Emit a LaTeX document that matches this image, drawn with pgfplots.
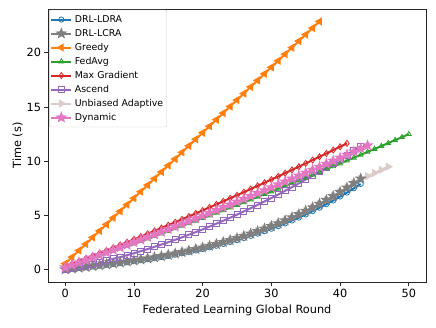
\documentclass[border=0pt]{standalone}
\usepackage{fontspec}
\setmainfont{DejaVu Sans}
\usepackage{pgfplots}
\usepackage{pgfplotstable}
\pgfplotsset{compat=1.18}
\usetikzlibrary{plotmarks}

\definecolor{tabblue}{HTML}{1F77B4}
\definecolor{tabgray}{HTML}{7F7F7F}
\definecolor{taborange}{HTML}{FF7F0E}
\definecolor{tabgreen}{HTML}{2CA02C}
\definecolor{tabred}{HTML}{D62728}
\definecolor{tabpurple}{HTML}{9467BD}
\definecolor{tabpale}{RGB}{220,204,201}
\definecolor{tabpink}{HTML}{E377C2}

% filled five-pointed star, like matplotlib's '*'
\pgfdeclareplotmark{fstar}{%
  \pgfpathmoveto{\pgfpointpolar{90}{\pgfplotmarksize}}%
  \pgfpathlineto{\pgfpointpolar{126}{0.42\pgfplotmarksize}}%
  \pgfpathlineto{\pgfpointpolar{162}{\pgfplotmarksize}}%
  \pgfpathlineto{\pgfpointpolar{198}{0.42\pgfplotmarksize}}%
  \pgfpathlineto{\pgfpointpolar{234}{\pgfplotmarksize}}%
  \pgfpathlineto{\pgfpointpolar{270}{0.42\pgfplotmarksize}}%
  \pgfpathlineto{\pgfpointpolar{306}{\pgfplotmarksize}}%
  \pgfpathlineto{\pgfpointpolar{342}{0.42\pgfplotmarksize}}%
  \pgfpathlineto{\pgfpointpolar{18}{\pgfplotmarksize}}%
  \pgfpathlineto{\pgfpointpolar{54}{0.42\pgfplotmarksize}}%
  \pgfpathclose
  \pgfusepathqfillstroke
}

\pgfplotsset{
  ser/.style={line width=2pt, mark options={solid, line width=0.8pt}},
}

% x ldra lcra greedy fedavg maxg ascend unb dyn
\pgfplotstableread{
x ldra lcra greedy fedavg maxg ascend unb dyn
0 0.00 0.02 0.55 0.20 0.30 0.00 0.02 0.20
1 0.07 0.09 1.15 0.42 0.54 0.12 0.09 0.43
2 0.14 0.17 1.76 0.63 0.78 0.25 0.17 0.65
3 0.21 0.24 2.36 0.85 1.03 0.38 0.24 0.88
4 0.29 0.33 2.97 1.07 1.27 0.52 0.33 1.11
5 0.36 0.40 3.57 1.29 1.52 0.67 0.40 1.34
6 0.44 0.49 4.17 1.51 1.77 0.82 0.49 1.58
7 0.51 0.56 4.78 1.74 2.02 0.99 0.56 1.81
8 0.60 0.66 5.38 1.96 2.28 1.15 0.66 2.04
9 0.68 0.74 5.99 2.19 2.53 1.33 0.74 2.28
10 0.77 0.84 6.59 2.41 2.79 1.51 0.84 2.52
11 0.86 0.93 7.19 2.64 3.05 1.70 0.93 2.76
12 0.95 1.03 7.80 2.87 3.31 1.90 1.03 3.00
13 1.05 1.13 8.40 3.10 3.57 2.10 1.13 3.24
14 1.15 1.24 9.01 3.33 3.84 2.31 1.24 3.49
15 1.26 1.36 9.61 3.56 4.10 2.53 1.36 3.73
16 1.38 1.48 10.21 3.80 4.37 2.75 1.48 3.98
17 1.50 1.61 10.82 4.03 4.64 2.98 1.61 4.23
18 1.63 1.75 11.42 4.27 4.91 3.22 1.75 4.48
19 1.76 1.89 12.03 4.51 5.18 3.46 1.89 4.73
20 1.90 2.03 12.63 4.75 5.46 3.71 2.03 4.98
21 2.05 2.19 13.23 4.99 5.74 3.97 2.19 5.23
22 2.20 2.35 13.84 5.23 6.02 4.24 2.35 5.49
23 2.37 2.53 14.44 5.47 6.30 4.51 2.53 5.75
24 2.54 2.71 15.05 5.72 6.58 4.79 2.71 6.00
25 2.72 2.90 15.65 5.96 6.86 5.07 2.90 6.26
26 2.91 3.10 16.25 6.21 7.15 5.37 3.10 6.52
27 3.11 3.32 16.86 6.46 7.44 5.67 3.32 6.79
28 3.32 3.54 17.46 6.71 7.73 5.97 3.54 7.05
29 3.54 3.77 18.07 6.96 8.02 6.29 3.77 7.31
30 3.77 4.02 18.67 7.21 8.31 6.61 4.02 7.58
31 4.01 4.27 19.27 7.46 8.60 6.93 4.27 7.85
32 4.26 4.54 19.88 7.71 8.90 7.27 4.54 8.12
33 4.53 4.82 20.48 7.97 9.20 7.61 4.82 8.39
34 4.80 5.11 21.09 8.23 9.50 7.96 5.11 8.66
35 5.09 5.42 21.69 8.48 9.80 8.31 5.42 8.93
36 5.39 5.73 22.29 8.74 10.11 8.67 5.73 9.21
37 5.71 6.07 22.90 9.00 10.41 9.04 6.07 9.48
38 6.04 6.42 nan 9.27 10.72 9.42 6.42 9.76
39 6.38 6.78 nan 9.53 11.03 9.80 6.78 10.04
40 6.74 7.16 nan 9.79 11.34 10.19 7.16 10.32
41 7.11 7.56 nan 10.06 11.65 10.58 7.56 10.60
42 7.50 7.97 nan 10.32 nan 10.99 7.97 10.88
43 7.90 8.39 nan 10.59 nan 11.40 8.39 11.17
44 nan nan nan 10.86 nan nan 8.62 11.46
45 nan nan nan 11.13 nan nan 8.92 nan
46 nan nan nan 11.40 nan nan 9.21 nan
47 nan nan nan 11.67 nan nan 9.50 nan
48 nan nan nan 11.95 nan nan nan nan
49 nan nan nan 12.22 nan nan nan nan
50 nan nan nan 12.50 nan nan nan nan
}\rounds

\begin{document}
\begin{tikzpicture}
\path[use as bounding box] (-48pt,-45pt) rectangle (388pt,282pt);
\begin{axis}[
  scale only axis,
  width=378pt, height=273pt,
  xmin=-2.5, xmax=52.5, ymin=-1.145, ymax=24.05,
  xtick={0,10,...,50}, ytick={0,5,...,20},
  tick align=outside, major tick length=3.5pt,
  xtick pos=bottom, ytick pos=left,
  axis line style={line width=0.8pt, black!85},
  every tick/.style={black!85, line width=0.8pt},
  /pgf/number format/assume math mode=true,
  tick label style={font=\fontsize{11.3}{13}\selectfont},
  label style={font=\fontsize{11.3}{13}\selectfont},
  xlabel={Federated Learning Global Round},
  ylabel={Time (s)},
  ylabel style={yshift=-3pt},
  unbounded coords=discard,
  legend image code/.code={\draw[mark repeat=2,mark phase=2] plot coordinates {(0pt,0pt) (10pt,0pt) (20pt,0pt)};},
  legend cell align=left,
  legend style={at={(0.003,0.997)}, anchor=north west, draw=black!20, fill=white,
    rounded corners=2pt, font=\fontsize{9.4}{11}\selectfont,
    inner xsep=1pt, inner ysep=2.5pt,
    nodes={inner sep=2.5pt, text height=7pt, text depth=2pt}},
]
% drawn first so that it lies under the grey series
\addplot[ser, tabpale, mark=triangle, mark size=2.8pt, mark options={rotate=-90}, forget plot] table[x=x, y=unb] {\rounds};

\addplot[ser, tabblue, mark=o, mark size=2.6pt] table[x=x, y=ldra] {\rounds};
\addlegendentry{DRL-LDRA}
\addplot[ser, tabgray, mark=fstar, mark size=3.4pt, mark options={fill=tabgray}] table[x=x, y=lcra] {\rounds};
\addlegendentry{DRL-LCRA}
\addplot[ser, taborange, mark=triangle, mark size=2.8pt, mark options={rotate=90}] table[x=x, y=greedy] {\rounds};
\addlegendentry{Greedy}
\addplot[ser, tabgreen, mark=triangle, mark size=2.8pt] table[x=x, y=fedavg] {\rounds};
\addlegendentry{FedAvg}
\addplot[ser, tabred, mark=diamond, mark size=3pt] table[x=x, y=maxg] {\rounds};
\addlegendentry{Max Gradient}
\addplot[ser, tabpurple, mark=square, mark size=3pt] table[x=x, y=ascend] {\rounds};
\addlegendentry{Ascend}
\addlegendimage{ser, tabpale, mark=triangle, mark size=2.8pt, mark options={rotate=-90}}
\addlegendentry{Unbiased Adaptive}
\addplot[ser, tabpink, mark=fstar, mark size=3.4pt, mark options={fill=tabpink}] table[x=x, y=dyn] {\rounds};
\addlegendentry{Dynamic}
\end{axis}
\end{tikzpicture}
\end{document}
